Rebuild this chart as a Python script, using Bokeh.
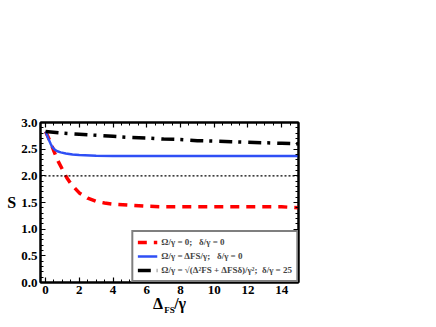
from bokeh.plotting import figure
from bokeh.models import Range1d, LinearAxis, FixedTicker, Legend, LegendItem, Span, PrintfTickFormatter
from bokeh.embed import file_html
from bokeh.resources import INLINE

# ---- data ----
x_red = [0, 0.25, 0.5, 0.75, 1.0, 1.25, 1.5, 2.0, 2.5, 3.0, 3.5, 4.0, 5.0, 6.0, 7.0, 8.0,
         9.0, 10.0, 11.0, 12.0, 13.0, 14.0, 15.0]
s_red = [2.83, 2.66, 2.46, 2.27, 2.12, 1.97, 1.85, 1.68, 1.58, 1.52, 1.49, 1.47, 1.45, 1.43,
         1.42, 1.42, 1.42, 1.42, 1.42, 1.42, 1.42, 1.42, 1.40]

x_blue = [0, 0.1, 0.2, 0.3, 0.4, 0.55, 0.7, 0.9, 1.2, 1.6, 2.0, 3.0, 4.0, 6.0, 8.0, 10.0,
          12.0, 14.0, 15.0]
s_blue = [2.83, 2.75, 2.67, 2.60, 2.54, 2.49, 2.46, 2.44, 2.42, 2.40, 2.39, 2.375, 2.37,
          2.37, 2.37, 2.37, 2.37, 2.37, 2.37]

x_black = [0, 1, 2, 3, 4, 5, 6, 7, 8, 9, 10, 11, 12, 13, 14, 15]
s_black = [2.83, 2.80, 2.78, 2.76, 2.74, 2.72, 2.71, 2.69, 2.68, 2.66, 2.65, 2.64, 2.63,
           2.62, 2.61, 2.60]

threshold = 2.0

x_major = [0, 2, 4, 6, 8, 10, 12, 14]
x_minor = [i * 0.5 for i in range(0, 31)]
y_major = [0.0, 0.5, 1.0, 1.5, 2.0, 2.5, 3.0]
y_minor = [i * 0.1 for i in range(0, 31)]

labels = ["Ω/γ = 0;   δ/γ = 0",
          "Ω/γ = ΔFS/γ;   δ/γ = 0",
          "Ω/γ = √(Δ²FS + ΔFSδ)/γ²;  δ/γ = 25"]

x_title_main = "Δ\u00a0\u00a0\u2009/γ"
x_title_sub = "FS"
y_title = "S"

FONT = "Liberation Serif"

p = figure(width=420, height=317, x_range=Range1d(-0.3, 15.0), y_range=Range1d(0, 3),
           output_backend="svg", toolbar_location=None,
           min_border_left=40, min_border_right=122, min_border_top=122, min_border_bottom=35)
p.grid.visible = False
p.outline_line_color = "black"
p.outline_line_width = 2
p.background_fill_color = "white"
p.border_fill_color = "white"

xt = FixedTicker(ticks=x_major, minor_ticks=x_minor)
yt = FixedTicker(ticks=y_major, minor_ticks=y_minor)


def style_axis(ax, show_labels=True):
    ax.axis_line_width = 2
    ax.axis_line_color = "black"
    ax.major_tick_in = 5
    ax.major_tick_out = 0
    ax.minor_tick_in = 3
    ax.minor_tick_out = 0
    ax.major_tick_line_width = 1.2
    ax.minor_tick_line_width = 1
    ax.major_label_text_font = FONT
    ax.major_label_text_font_style = "bold"
    ax.major_label_text_font_size = "13px"
    ax.major_label_text_color = "black" if show_labels else None
    ax.major_label_standoff = 3
    ax.axis_label_text_font = FONT
    ax.axis_label_text_font_style = "bold"
    ax.axis_label_text_color = "black"


xa = p.xaxis[0]
ya = p.yaxis[0]
xa.ticker = xt
ya.ticker = yt
ya.formatter = PrintfTickFormatter(format="%.1f")
style_axis(xa)
style_axis(ya)
xa.axis_label = x_title_main
xa.axis_label_text_font_size = "16px"
xa.axis_label_standoff = -2
ya.axis_label = y_title
ya.axis_label_orientation = "horizontal"
ya.axis_label_text_font_size = "16px"
ya.axis_label_standoff = 2

top = LinearAxis(ticker=xt)
style_axis(top, False)
top.axis_label = x_title_sub
top.axis_label_text_font_size = "9px"
top.axis_label_standoff = -192
p.add_layout(top, "above")
right = LinearAxis(ticker=yt)
style_axis(right, False)
p.add_layout(right, "right")

p.add_layout(Span(location=threshold, dimension="width", line_color="black",
                  line_width=1.3, line_dash="2 2"))

r_red = p.line(x_red, s_red, line_color="#ff0000", line_width=3.5, line_dash="9 7")
r_blue = p.line(x_blue, s_blue, line_color="#2f4ff5", line_width=2.5)
r_black = p.line(x_black, s_black, line_color="black", line_width=3.5, line_dash="13 6 3 7")

legend = Legend(items=[LegendItem(label=labels[0], renderers=[r_red]),
                       LegendItem(label=labels[1], renderers=[r_blue]),
                       LegendItem(label=labels[2], renderers=[r_black])],
                location="bottom_right", margin=0, padding=4, spacing=2,
                glyph_width=20, glyph_height=12, label_height=12, label_standoff=4,
                label_text_font=FONT, label_text_font_style="bold",
                label_text_font_size="9px", border_line_color="black",
                border_line_width=2, background_fill_color="white", background_fill_alpha=1)
p.add_layout(legend)

open("out.html", "w").write(file_html(p, INLINE))
